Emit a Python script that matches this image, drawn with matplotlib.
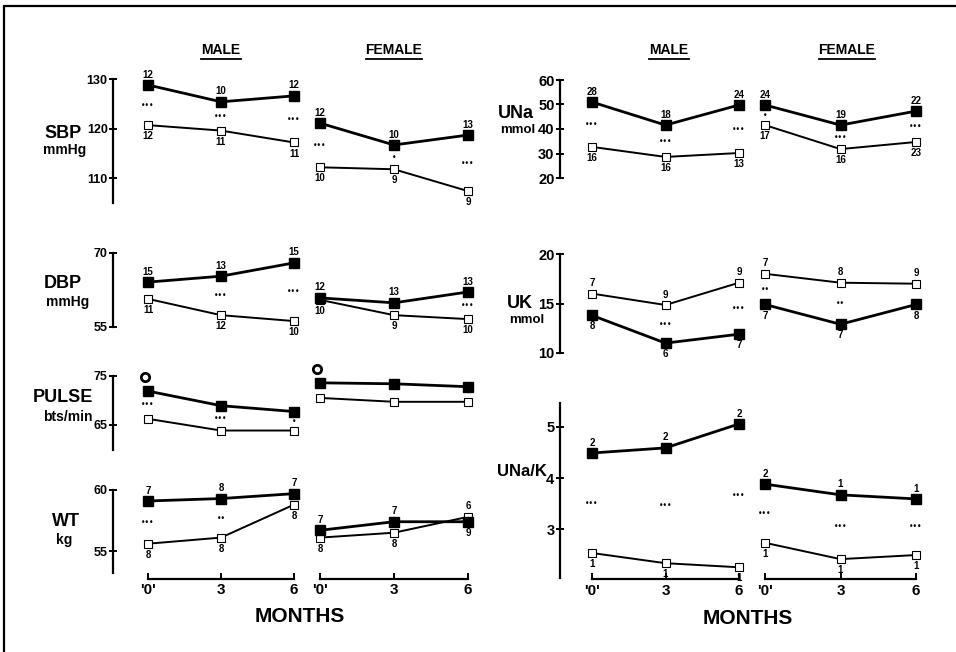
import matplotlib
matplotlib.use("Agg")
import matplotlib.pyplot as plt
import matplotlib.transforms as mtransforms
from matplotlib.lines import Line2D
from matplotlib.patches import Rectangle
from matplotlib import font_manager

W, H = 956, 652

months = [0, 3, 6]
month_labels = ["'0'", "3", "6"]

# SBP (mmHg)
sbp_male_filled = [128.8, 125.4, 126.6]
sbp_male_open = [120.7, 119.6, 117.2]
sbp_male_n_filled = [12, 10, 12]
sbp_male_n_open = [12, 11, 11]
sbp_male_stars = ["***", "***", "***"]
sbp_female_filled = [121.1, 116.7, 118.7]
sbp_female_open = [112.2, 111.8, 107.4]
sbp_female_n_filled = [12, 10, 13]
sbp_female_n_open = [10, 9, 9]
sbp_female_stars = ["***", "*", "***"]

# DBP (mmHg)
dbp_male_filled = [64.1, 65.3, 68.0]
dbp_male_open = [60.7, 57.4, 56.2]
dbp_male_n_filled = [15, 13, 15]
dbp_male_n_open = [11, 12, 10]
dbp_male_stars = ["", "***", "***"]
dbp_female_filled = [60.9, 59.9, 62.1]
dbp_female_open = [60.5, 57.4, 56.6]
dbp_female_n_filled = [12, 13, 13]
dbp_female_n_open = [10, 9, 10]
dbp_female_stars = ["", "", "***"]

# Pulse (beats/min)
pulse_male_filled = [71.9, 68.9, 67.7]
pulse_male_open = [66.2, 63.8, 63.8]
pulse_male_stars = ["***", "***", "*"]
pulse_female_filled = [73.6, 73.4, 72.8]
pulse_female_open = [70.5, 69.7, 69.7]
pulse_female_stars = ["", "", ""]

# Weight (kg)
wt_male_filled = [59.1, 59.3, 59.7]
wt_male_open = [55.6, 56.1, 58.8]
wt_male_n_filled = [7, 8, 7]
wt_male_n_open = [8, 8, 8]
wt_male_stars = ["***", "**", ""]
wt_female_filled = [56.7, 57.4, 57.4]
wt_female_open = [56.1, 56.5, 57.8]
wt_female_n_filled = [7, 7, 9]
wt_female_n_open = [8, 8, 6]
wt_female_stars = ["", "", ""]

# Urinary sodium (mmol)
una_male_filled = [51.0, 41.6, 49.8]
una_male_open = [32.7, 28.6, 30.2]
una_male_n_filled = [28, 18, 24]
una_male_n_open = [16, 16, 13]
una_male_stars = ["***", "***", "***"]
una_female_filled = [49.8, 41.6, 47.3]
una_female_open = [41.6, 31.8, 34.7]
una_female_n_filled = [24, 19, 22]
una_female_n_open = [17, 16, 23]
una_female_stars = ["*", "***", "***"]

# Urinary potassium (mmol)
uk_male_filled = [13.8, 11.0, 11.9]
uk_male_open = [16.0, 14.85, 17.1]
uk_male_n_filled = [8, 6, 7]
uk_male_n_open = [7, 9, 9]
uk_male_stars = ["", "***", "***"]
uk_female_filled = [14.9, 12.9, 14.9]
uk_female_open = [18.0, 17.1, 17.0]
uk_female_n_filled = [7, 7, 8]
uk_female_n_open = [7, 8, 9]
uk_female_stars = ["**", "**", ""]

# UNa/K ratio
ratio_male_filled = [4.49, 4.59, 5.06]
ratio_male_open = [2.53, 2.33, 2.25]
ratio_male_n_filled = [2, 2, 2]
ratio_male_n_open = [1, 1, 1]
ratio_male_stars = ["***", "***", "***"]
ratio_female_filled = [3.88, 3.67, 3.59]
ratio_female_open = [2.73, 2.41, 2.49]
ratio_female_n_filled = [2, 1, 1]
ratio_female_n_open = [1, 1, 1]
ratio_female_stars = ["***", "***", "***"]

installed = {f.name for f in font_manager.fontManager.ttflist}
base_font = "Liberation Sans" if "Liberation Sans" in installed else "DejaVu Sans"
narrow_font = "Liberation Sans Narrow" if "Liberation Sans Narrow" in installed else base_font
plt.rcParams["font.family"] = [base_font, "DejaVu Sans"]

fig = plt.figure(figsize=(W / 100, H / 100), dpi=100)

# frame (only left and top edges visible in the scan)
fig.add_artist(Rectangle((4 / W, -0.2), 2.0, 1.2 - 6 / H, transform=fig.transFigure,
                         fill=False, lw=1.6, ec="black"))

# x spans (pixels) for each group/sex
xspan = {("L", "m"): (148, 294), ("L", "f"): (320, 468),
         ("R", "m"): (592, 739), ("R", "f"): (765, 916)}
outward = {"L": 25, "R": 23}
tick_fs = {"L": 9, "R": 10.5}

# rows: group, top px, bottom px, ylim, yticks, bottom axis?
rows = [
    ("L", 79, 203, (105, 130), [110, 120, 130], False,
     (sbp_male_filled, sbp_male_open, sbp_male_n_filled, sbp_male_n_open, sbp_male_stars),
     (sbp_female_filled, sbp_female_open, sbp_female_n_filled, sbp_female_n_open, sbp_female_stars)),
    ("L", 253, 327, (55, 70), [55, 70], False,
     (dbp_male_filled, dbp_male_open, dbp_male_n_filled, dbp_male_n_open, dbp_male_stars),
     (dbp_female_filled, dbp_female_open, dbp_female_n_filled, dbp_female_n_open, dbp_female_stars)),
    ("L", 376, 450, (59.8, 75), [65, 75], False,
     (pulse_male_filled, pulse_male_open, None, None, pulse_male_stars),
     (pulse_female_filled, pulse_female_open, None, None, pulse_female_stars)),
    ("L", 490, 573, (53.2, 60), [55, 60], True,
     (wt_male_filled, wt_male_open, wt_male_n_filled, wt_male_n_open, wt_male_stars),
     (wt_female_filled, wt_female_open, wt_female_n_filled, wt_female_n_open, wt_female_stars)),
    ("R", 80, 178, (20, 60), [20, 30, 40, 50, 60], False,
     (una_male_filled, una_male_open, una_male_n_filled, una_male_n_open, una_male_stars),
     (una_female_filled, una_female_open, una_female_n_filled, una_female_n_open, una_female_stars)),
    ("R", 254, 353, (10, 20), [10, 15, 20], False,
     (uk_male_filled, uk_male_open, uk_male_n_filled, uk_male_n_open, uk_male_stars),
     (uk_female_filled, uk_female_open, uk_female_n_filled, uk_female_n_open, uk_female_stars)),
    ("R", 403, 578, (2.04, 5.47), [3, 4, 5], True,
     (ratio_male_filled, ratio_male_open, ratio_male_n_filled, ratio_male_n_open, ratio_male_stars),
     (ratio_female_filled, ratio_female_open, ratio_female_n_filled, ratio_female_n_open, ratio_female_stars)),
]


def draw_panel(ax, data, ylim, yticks, group, show_y, bottom):
    filled, opened, nf, no, stars = data
    ax.set_xlim(0, 6)
    ax.set_ylim(*ylim)
    ax.patch.set_visible(False)
    for s in ax.spines.values():
        s.set_visible(False)
    ax.plot(months, opened, color="black", lw=1.4, marker="s", ms=5.5,
            mfc="white", mec="black", mew=0.8, clip_on=False, zorder=3)
    ax.plot(months, filled, color="black", lw=2.0, marker="s", ms=6.5,
            clip_on=False, zorder=4)
    for i, x in enumerate(months):
        top_is_filled = filled[i] >= opened[i]
        if nf is not None:
            ax.annotate(str(nf[i]), (x, filled[i]), xytext=(0, 7.5 if top_is_filled else -8),
                        textcoords="offset points", ha="center", va="center",
                        fontsize=7, fontweight="bold")
            ax.annotate(str(no[i]), (x, opened[i]), xytext=(0, -8 if top_is_filled else 7.5),
                        textcoords="offset points", ha="center", va="center",
                        fontsize=7, fontweight="bold")
        if stars[i]:
            ax.text(x, (filled[i] + opened[i]) / 2, "\u2022" * len(stars[i]),
                    ha="center", va="center", fontsize=5.5, family="DejaVu Sans")
    if show_y:
        sp = ax.spines["left"]
        sp.set_visible(True)
        sp.set_position(("outward", outward[group]))
        sp.set_linewidth(1.6)
        ax.set_yticks(yticks)
        ax.tick_params(axis="y", direction="inout", length=6, width=1.4,
                       labelsize=tick_fs[group], pad=1)
        for t in ax.get_yticklabels():
            t.set_fontweight("bold")
    else:
        ax.set_yticks([])
    if bottom:
        sp = ax.spines["bottom"]
        sp.set_visible(True)
        sp.set_position(("outward", 4 if group == "L" else 1))
        sp.set_linewidth(1.6)
        ax.set_xticks(months)
        ax.set_xticklabels(month_labels)
        ax.tick_params(axis="x", direction="in", length=4, width=1.4,
                       labelsize=11, pad=3)
        for t in ax.get_xticklabels():
            t.set_fontweight("bold")
    else:
        ax.set_xticks([])


pulse_axes = []
for group, top, bot, ylim, yticks, bottom, male, female in rows:
    for sex, data in (("m", male), ("f", female)):
        x0, x1 = xspan[(group, sex)]
        ax = fig.add_axes([x0 / W, 1 - bot / H, (x1 - x0) / W, (bot - top) / H])
        draw_panel(ax, data, ylim, yticks, group, sex == "m", bottom)
        if data[0] is pulse_male_filled or data[0] is pulse_female_filled:
            pulse_axes.append((ax, data[0]))

# open circle symbol above baseline pulse values
for ax, filled in pulse_axes:
    tr = mtransforms.offset_copy(ax.transData, fig=fig, x=-3, y=14, units="dots")
    ax.plot(months[0], filled[0], marker="o", ms=6, mfc="white", mec="black",
            mew=2, transform=tr, clip_on=False)

# variable names
def var_label(x, y, text, fs, weight="heavy"):
    fig.text(x / W, 1 - y / H, text, ha="center", va="center", fontsize=fs,
             fontweight=weight)

var_label(63, 134, "SBP", 13)
var_label(65, 150, "mmHg", 10, "bold")
var_label(63, 283, "DBP", 13)
var_label(68, 302, "mmHg", 10, "bold")
var_label(63, 398, "PULSE", 13)
var_label(68, 417, "bts/min", 10, "bold")
var_label(66, 522, "WT", 13)
var_label(64, 540, "kg", 10, "bold")
var_label(516, 113, "UNa", 13)
var_label(518, 130, "mmol", 9.5, "bold")
var_label(520, 304, "UK", 13)
var_label(527, 320, "mmol", 9.5, "bold")
var_label(522, 472, "UNa/K", 12)

# headers
headers = []
for x, txt in ((221, "MALE"), (394, "FEMALE"), (669, "MALE"), (847, "FEMALE")):
    headers.append(fig.text(x / W, 1 - 50 / H, txt, ha="center", va="center",
                            fontsize=10, fontweight="bold"))

for x, y in ((300, 617), (748, 619)):
    fig.text(x / W, 1 - y / H, "MONTHS", ha="center", va="center", fontsize=15,
             fontweight="heavy", family=[narrow_font, "DejaVu Sans"])

fig.canvas.draw()
r = fig.canvas.get_renderer()
for t in headers:
    bb = t.get_window_extent(r)
    yline = (bb.y0 - 2) / H
    fig.add_artist(Line2D([bb.x0 / W, bb.x1 / W], [yline, yline], color="black",
                          lw=1.3, transform=fig.transFigure))

fig.savefig("out.png", dpi=100)
